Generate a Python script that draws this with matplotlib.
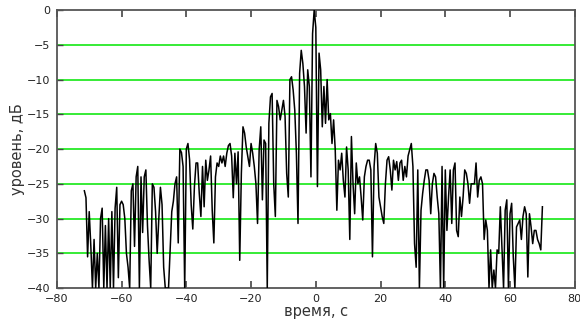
import numpy as np
import matplotlib
matplotlib.use("Agg")
import matplotlib.pyplot as plt

# time grid of the recorded signal
t_start = -71.5   # s
t_step = 0.5      # s

level_db = [
    # -71.5 .. -49.5
    -26, -27, -35.5, -29, -34, -40, -33, -40, -35, -40,
    -30, -28.5, -40, -31, -40, -30, -40, -29, -40, -28.5,
    -25.5, -38.5, -28, -27.5, -28, -30, -35, -37, -40, -26,
    -25, -34, -24, -22.5, -40, -24, -32, -24, -23, -31,
    -36, -40, -25, -25.5, -29,
    # -49 .. -25
    -35, -30, -25.5, -28, -37, -40, -40, -40, -34.5, -29,
    -27.5, -25, -24, -33.5, -20, -20.5, -22.5, -40, -20, -19.2,
    -21.5, -28, -31.5, -25.4, -22, -22, -26.4, -29.7, -22.5, -28.3,
    -21.6, -24.5, -23, -21, -28.8, -33.5, -24, -22, -22.5, -21,
    -22, -21, -22.5, -20.6, -19.5, -19.2, -21, -27, -20.6,
    # -24.5 .. -0.5
    -25, -20.4, -36, -23.5, -16.8, -17.7, -19.7, -21.1, -22.5, -19.2,
    -20.6, -22.5, -25, -30.7, -20.1, -16.8, -27.3, -18.7, -19.2, -40,
    -16.3, -12.5, -12, -25, -29.7, -13, -13.9, -15.8, -14.4, -13,
    -15.3, -23.5, -26.9, -10, -9.6, -11.5, -14.4, -20.6, -30.7, -9.1,
    -5.8, -7.7, -11, -17.7, -8.6, -11, -24, -3.4, 0,
    # 0 .. 23.5
    -2.5, -25.4, -6.2, -8.6, -16.8, -11, -16.3, -10, -15.8, -14.9,
    -19.2, -15.8, -20.1, -28.8, -21.6, -23, -20.6, -24.5, -26.9, -19.7,
    -23, -33, -18.2, -25, -29.3, -22, -25, -24, -26.9, -30.2,
    -24, -22.5, -21.6, -21.6, -23, -35.5, -22.5, -19.2, -20.6, -26.9,
    -28.3, -29.7, -30.7, -25, -21.6, -21.1, -23, -25.9,
    # 24 .. 48
    -21.6, -23, -21.8, -24.5, -22, -21.6, -24.5, -22.5, -24, -21,
    -20.1, -19.2, -22.5, -33.6, -37, -23, -40, -28.8, -26.4, -24.5,
    -23, -23, -24.5, -29.3, -25, -23.5, -24, -26.9, -29.3, -40,
    -22.5, -40, -23, -31.7, -26.9, -23, -30.7, -23, -22, -31.7,
    -32.6, -26.9, -29.7, -26.9, -23, -23.5, -25, -27.8, -25,
    # 48.5 .. 70
    -25, -25, -22, -26.9, -24.5, -24, -25, -33, -30.2, -31.7,
    -40, -34.5, -40, -37.4, -40, -34.5, -35, -28.3, -34, -40,
    -28.8, -27.3, -40, -29.3, -27.8, -35.5, -40, -31.2, -30.7, -30.2,
    -33, -29.7, -28.3, -29.3, -38.4, -29.3, -31.2, -33.6, -31.7, -31.7,
    -33, -33.6, -34.5, -28.3,
]

x_ticks = [-80, -60, -40, -20, 0, 20, 40, 60, 80]
y_ticks = [0, -5, -10, -15, -20, -25, -30, -35, -40]
grid_levels = [-5, -10, -15, -20, -25, -30, -35]
x_label = "время, с"
y_label = "уровень, дБ"

time_s = t_start + t_step * np.arange(len(level_db))

fig = plt.figure(figsize=(5.8, 3.23), dpi=100)
ax = fig.add_axes([0.098, 0.108, 0.893, 0.861])

for g in grid_levels:
    ax.axhline(g, color="#00e600", lw=1.1, zorder=1)

ax.plot(time_s, level_db, color="black", lw=1.1, zorder=3)

ax.set_xlim(-80, 80)
ax.set_ylim(-40, 0)
ax.set_xticks(x_ticks)
ax.set_yticks(y_ticks)
ax.set_xticklabels([str(v).replace("-", "\u2212") for v in x_ticks])
ax.set_yticklabels([str(v).replace("-", "\u2212") for v in y_ticks])

ax.tick_params(axis="x", direction="in", length=5, width=1.2, color="#444444",
               top=True, labelsize=8, pad=4, labelcolor="#222222")
ax.tick_params(axis="y", direction="in", length=4, width=1.0, color="#444444",
               labelsize=8, pad=5, labelcolor="#222222")
for s in ax.spines.values():
    s.set_color("#555555")
    s.set_linewidth(1.3)

ax.set_xlabel(x_label, fontsize=10.5, color="#333333", labelpad=0)
ax.set_ylabel(y_label, fontsize=10.5, color="#333333", labelpad=1)

fig.savefig("out.png", dpi=100)
